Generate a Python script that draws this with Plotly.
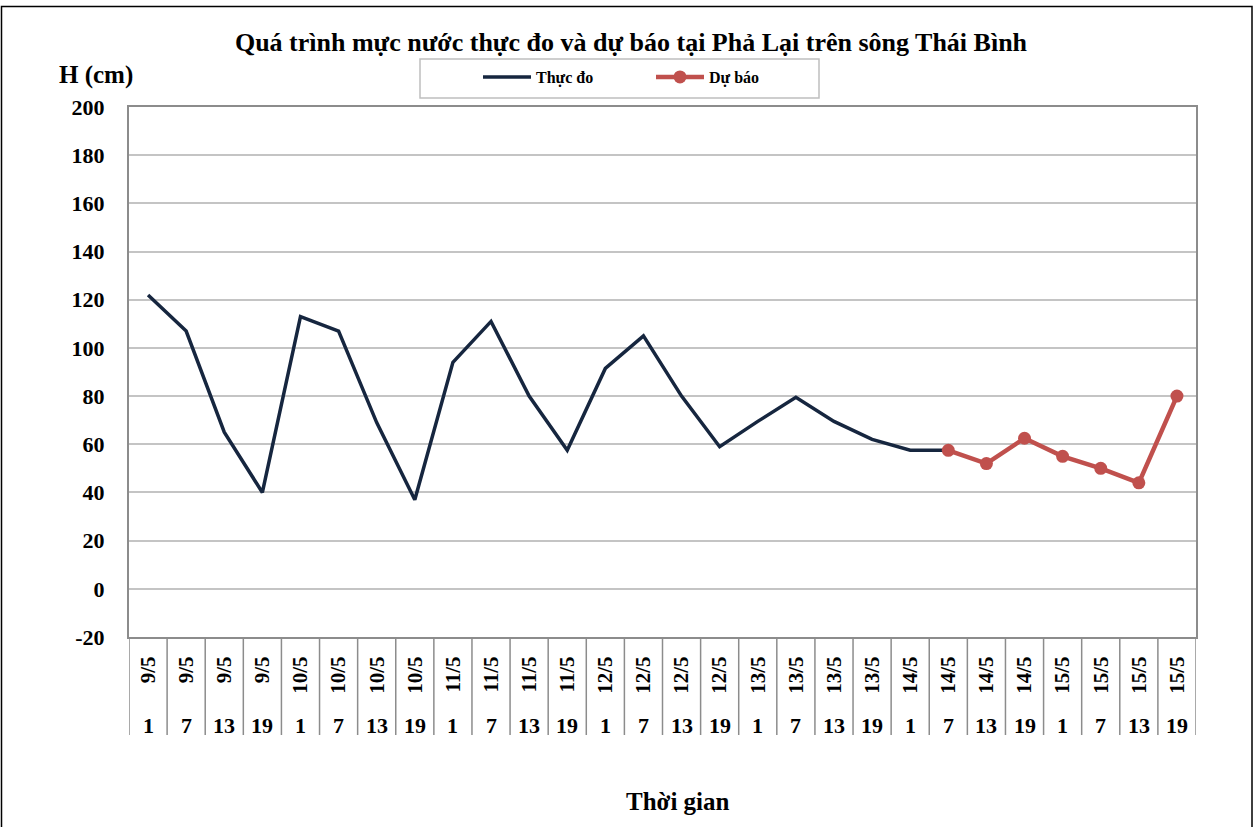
import plotly.graph_objects as go

dates = ["9/5"]*4 + ["10/5"]*4 + ["11/5"]*4 + ["12/5"]*4 + ["13/5"]*4 + ["14/5"]*4 + ["15/5"]*4
hours = ["1", "7", "13", "19"] * 7

observed = [122, 107, 65, 40, 113, 107, 69, 37, 94, 111, 80, 57.5,
            91.5, 105, 80, 59, 69.5, 79.5, 69.5, 62, 57.5, 57.5]
forecast = [57.5, 52, 62.5, 55, 50, 44, 80]

y_ticks = [-20, 0, 20, 40, 60, 80, 100, 120, 140, 160, 180, 200]
y_ticktext = ["-20", "0", "20", "40", "60", "80", "100", "120", "140", "160", "180", "200"]

FONT = "Liberation Serif"
x_all = list(range(len(dates)))
x_obs = x_all[:len(observed)]
x_fc = x_all[len(observed) - 1:len(observed) - 1 + len(forecast)]

fig = go.Figure()
fig.add_trace(go.Scatter(x=x_obs, y=observed, mode="lines", name="Thực đo",
                         line=dict(color="#16263f", width=3.5)))
fig.add_trace(go.Scatter(x=x_fc, y=forecast, mode="lines+markers", name="Dự báo",
                         line=dict(color="#c0504d", width=4.5),
                         marker=dict(color="#c0504d", size=13)))

# plot area pixels: x 129..1196, y 107..637
def px(xp):
    return (xp - 129) / 1067.0

def py(yp):
    return (637 - yp) / 530.0

shapes = []
for i in range(len(dates) + 1):
    shapes.append(dict(type="line", xref="x", yref="paper", x0=i - 0.5, x1=i - 0.5,
                       y0=0, y1=py(735), line=dict(color="#8c8c8c", width=1.5)))
# legend frame
shapes.append(dict(type="rect", xref="paper", yref="paper", x0=px(420), x1=px(819),
                   y0=py(98), y1=py(59), line=dict(color="#bfbfbf", width=1.5),
                   fillcolor="white", layer="below"))
# outer frame
shapes.append(dict(type="rect", xref="paper", yref="paper", x0=px(1.5), x1=px(1252),
                   y0=py(845), y1=py(6.5), line=dict(color="black", width=1.5)))

annotations = []
for i, h in enumerate(hours):
    annotations.append(dict(x=i, y=py(725), xref="x", yref="paper", text=h, showarrow=False,
                            font=dict(family=FONT, size=22, color="black", weight="bold"),
                            xanchor="center", yanchor="middle"))
annotations.append(dict(x=px(96), y=py(75), xref="paper", yref="paper", text="H (cm)",
                        showarrow=False, font=dict(family=FONT, size=25, color="black", weight="bold"),
                        xanchor="center", yanchor="middle"))
annotations.append(dict(x=px(678), y=py(801), xref="paper", yref="paper", text="Thời gian",
                        showarrow=False, font=dict(family=FONT, size=25, color="black", weight="bold"),
                        xanchor="center", yanchor="middle"))

fig.update_layout(
    width=1257, height=827,
    margin=dict(l=129, r=61, t=107, b=190),
    paper_bgcolor="white", plot_bgcolor="white",
    title=dict(text="Quá trình mực nước thực đo và dự báo tại Phả Lại trên sông Thái Bình",
               xref="container", x=631 / 1257, xanchor="center", y=1 - 42 / 827, yanchor="middle",
               font=dict(family=FONT, size=26, color="black", weight="bold")),
    showlegend=True,
    legend=dict(orientation="h", x=px(478), xanchor="left", y=py(60), yanchor="top",
                borderwidth=0, bgcolor="rgba(0,0,0,0)", itemwidth=48,
                font=dict(family=FONT, size=16, color="black", weight="bold"),
                entrywidth=110, entrywidthmode="pixels"),
    shapes=shapes, annotations=annotations,
    xaxis=dict(range=[-0.5, len(dates) - 0.5], tickmode="array", tickvals=x_all, ticktext=dates,
               tickangle=-90, ticks="", showgrid=False, zeroline=False,
               showline=True, linecolor="#8c8c8c", linewidth=2, mirror=True,
               ticklabelstandoff=9,
               tickfont=dict(family=FONT, size=21, color="black", weight="bold")),
    yaxis=dict(range=[-20, 200], tickmode="array", tickvals=y_ticks, ticktext=y_ticktext,
               showgrid=True, gridcolor="#c4c4c4", gridwidth=1.5,
               zeroline=False, showline=True, linecolor="#8c8c8c", linewidth=2, mirror=True,
               ticks="", ticklabelstandoff=18,
               tickfont=dict(family=FONT, size=22, color="black", weight="bold")),
)

fig.write_html("out.html", config={"displayModeBar": False},
               post_script="document.body.style.margin='0px';document.body.style.overflow='hidden';")
